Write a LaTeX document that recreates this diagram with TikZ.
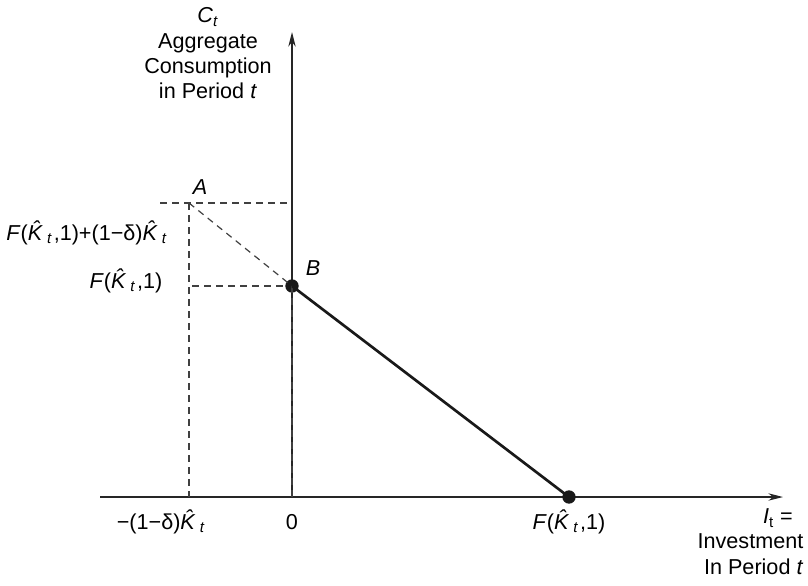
\documentclass[tikz,border=0pt]{standalone}
\usepackage{fontspec}
\setmainfont{Liberation Sans}
\usetikzlibrary{arrows.meta}
\newcommand{\Kt}{\textit{\^K}\textsubscript{\kern1pt\textit{t}}}
\newcommand{\FK}{\textit{F}(\Kt\kern1pt,1)}
\begin{document}
\begin{tikzpicture}[x=0.75pt,y=-0.75pt,font=\fontsize{16.2}{19}\selectfont,
  axis/.style={line width=1pt,black!85,-{Stealth[length=11pt,width=5.5pt]}},
  guide/.style={line width=0.9pt,dash pattern=on 5pt off 4pt,black!75},
  dot/.style={circle,fill=black!90,inner sep=0pt,minimum size=10pt}]
\useasboundingbox (0,0) rectangle (808,586);
\coordinate (O) at (292,497);
\coordinate (ytop) at (292,32);
\coordinate (xl) at (100,497);
\coordinate (xr) at (783,497);
\coordinate (A) at (189,203);
\coordinate (Aleft) at (160,203);
\coordinate (Aright) at (288,203);
\coordinate (Bleft) at (192,286);
\coordinate (Abot) at (189,497);
% axes
\draw[axis] (xl) -- (xr);
\draw[axis] (O) -- (ytop);
% guides
\draw[guide] (Aleft) -- (Aright);
\draw[guide] (A) -- (Abot);
\draw[guide] (Bleft) -- (292,286);
\node[dot] (B) at (292,286) {};
\node[dot] (E) at (569,497) {};
\draw[guide] (A) -- (B.center);
\draw[guide] (B.center) -- (O);
% budget line
\draw[line width=2pt,black!90] (B.center) -- (E.center);
% labels
\node[anchor=base] (Alab) at (200,194) {\textit{A}};
\node[anchor=base] (Blab) at (313,275) {\textit{B}};
\node[anchor=east] (lab1) at (172,233) {\FK+(1−δ)\Kt};
\node[anchor=east] (lab2) at (167,281) {\FK};
\node[anchor=base] (lab3) at (161,529) {−(1−δ)\Kt};
\node[anchor=base] (lab0) at (292,529) {0};
\node[anchor=base] (lab4) at (569,529) {\FK};
\node[align=center,anchor=north] (ylab) at (208,3)
  {\textit{C}\textsubscript{\textit{t}}\\Aggregate\\Consumption\\in Period \textit{t}};
\node[align=right,anchor=north east] (xlab) at (808,504)
  {\textit{I}\textsubscript{t} =\kern8pt\\Investment\\In Period \textit{t}};
\end{tikzpicture}
\end{document}
